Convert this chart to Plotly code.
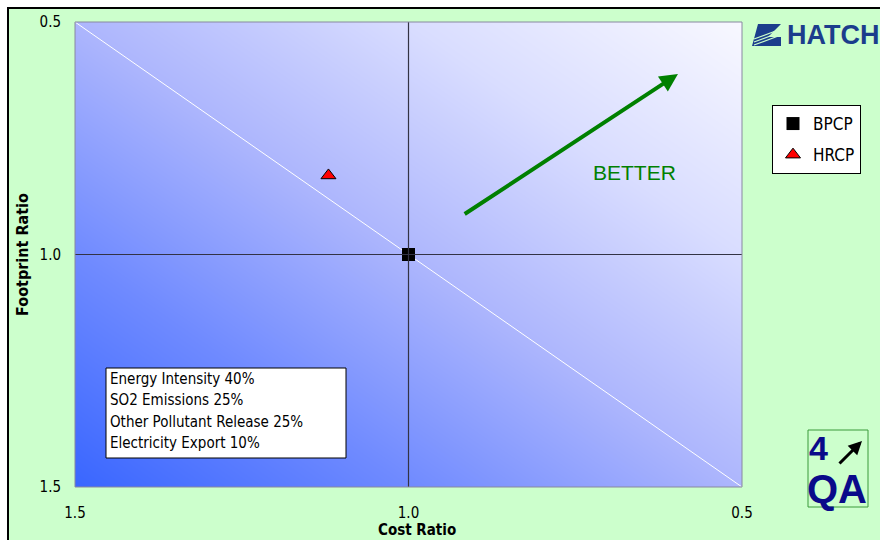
import plotly.graph_objects as go

# ---- data ----
series_names = ["BPCP", "HRCP"]
cost_ratio = [1.0, 1.12]
footprint_ratio = [1.0, 0.83]
tick_vals = [0.5, 1.0, 1.5]
tick_text = ["0.5", "1.0", "1.5"]
weights_text = ["Energy Intensity 40%", "SO2 Emissions 25%",
                "Other Pollutant Release 25%", "Electricity Export 10%"]

W, H = 880, 540
L, R, T, B = 75, 742, 22, 487


def px(x):
    return (x - L) / (R - L)


def py(y):
    return (B - y) / (B - T)


FONT = "DejaVu Sans Condensed, Noto Sans, DejaVu Sans"

fig = go.Figure()

# background gradient of plot area
fig.add_trace(go.Heatmap(
    x=[1.5, 0.5], y=[0.5, 1.5], z=[[1, 2], [0, 1]], zsmooth="best",
    colorscale=[[0, "#3966ff"], [0.25, "#6f8aff"], [0.5, "#adb6fd"],
                [0.75, "#d9ddff"], [1, "#f8f8ff"]],
    showscale=False, hoverinfo="skip", showlegend=False))

# diagonal line
fig.add_trace(go.Scatter(x=[1.5, 0.5], y=[0.5, 1.5], mode="lines",
                         line=dict(color="white", width=1),
                         hoverinfo="skip", showlegend=False))

fig.add_trace(go.Scatter(
    x=[cost_ratio[0]], y=[footprint_ratio[0]], mode="markers", name=series_names[0],
    marker=dict(symbol="square", size=13, color="black"), legendgroup="a"))
fig.add_trace(go.Scatter(
    x=[cost_ratio[1]], y=[footprint_ratio[1]], mode="markers", name=series_names[1],
    marker=dict(symbol="triangle-up", size=13, color="#ff0000",
                line=dict(color="black", width=1)), legendgroup="b"))

shapes = [
    # green page with black border
    dict(type="rect", xref="paper", yref="paper", x0=px(8), x1=px(890), y0=py(8), y1=py(560),
         fillcolor="#ccffcc", line=dict(color="black", width=2), layer="below"),
    # crosshairs
    dict(type="line", xref="x", yref="paper", x0=1.0, x1=1.0, y0=0, y1=1,
         line=dict(color="#333344", width=1.2)),
    dict(type="line", xref="paper", yref="y", x0=0, x1=1, y0=1.0, y1=1.0,
         line=dict(color="#333344", width=1.2)),
    # plot border
    dict(type="rect", xref="paper", yref="paper", x0=0, x1=1, y0=0, y1=1,
         line=dict(color="#8888a0", width=1)),
    # weights box
    dict(type="rect", xref="paper", yref="paper", x0=px(106), x1=px(346), y0=py(368), y1=py(458),
         fillcolor="white", line=dict(color="black", width=1)),
    # 4QA box
    dict(type="rect", xref="paper", yref="paper", x0=px(808), x1=px(868), y0=py(430), y1=py(507),
         line=dict(color="#3a9a3a", width=1)),
    # HATCH icon
    dict(type="path", xref="paper", yref="paper",
         path=f"M {px(758)},{py(24)} L {px(781)},{py(24)} L {px(768)},{py(37)} L {px(781)},{py(37)} "
              f"L {px(781)},{py(46)} L {px(752)},{py(46)} Z",
         fillcolor="#1b3d8c", line=dict(width=0)),
]
for a in (30, 33, 36):
    shapes.append(dict(type="line", xref="paper", yref="paper",
                       x0=px(754), y0=py(a + 9), x1=px(781), y1=py(a - 1),
                       line=dict(color="#ccffcc", width=1.2)))

annotations = []
for i, t in enumerate(weights_text):
    annotations.append(dict(xref="paper", yref="paper", x=px(108), y=py(379 + 21.3 * i),
                            xanchor="left", yanchor="middle", text=t, showarrow=False,
                            font=dict(family=FONT, size=15, color="black")))

annotations += [
    # x axis title
    dict(xref="paper", yref="paper", x=px(417), y=py(530), xanchor="center", yanchor="middle",
         text="<b>Cost Ratio</b>", showarrow=False,
         font=dict(family=FONT, size=15, color="black")),
    # BETTER arrow
    dict(xref="x", yref="y", axref="x", ayref="y", x=0.596, y=0.612, ax=0.918, ay=0.915,
         text="", showarrow=True, arrowhead=2, arrowsize=0.9, arrowwidth=4, arrowcolor="#008000"),
    dict(xref="paper", yref="paper", x=px(634), y=py(172), xanchor="center", yanchor="middle",
         text="BETTER", showarrow=False,
         font=dict(family="Liberation Sans, Arial", size=21, color="#008000")),
    # HATCH logo text
    dict(xref="paper", yref="paper", x=px(785), y=py(35), xanchor="left", yanchor="middle",
         text="<b>HATCH</b>", showarrow=False,
         font=dict(family="Liberation Sans, Arial", size=27, color="#1b3d8c")),
    # 4QA logo
    dict(xref="paper", yref="paper", x=px(807), y=py(448), xanchor="left", yanchor="middle",
         text="<b>4</b>", showarrow=False,
         font=dict(family="Liberation Sans Narrow, Liberation Sans", size=34, color="#0a0a8a")),
    dict(xref="paper", yref="paper", x=px(837), y=py(489), xanchor="center", yanchor="middle",
         text="<b>QA</b>", showarrow=False,
         font=dict(family="Liberation Sans Narrow, Liberation Sans", size=40, color="#0a0a8a")),
    dict(xref="paper", yref="paper", axref="pixel", ayref="pixel", x=px(862), y=py(441),
         ax=-24, ay=24, text="", showarrow=True, arrowhead=2, arrowsize=0.9, arrowwidth=3,
         arrowcolor="black"),
]

fig.update_layout(
    width=W, height=H,
    margin=dict(l=L, r=W - R, t=T, b=H - B, pad=0, autoexpand=False),
    paper_bgcolor="white", plot_bgcolor="rgba(0,0,0,0)",
    font=dict(family=FONT, size=15, color="black"),
    shapes=shapes, annotations=annotations,
    showlegend=True,
    legend=dict(x=px(772), y=py(105), xanchor="left", yanchor="top",
                bgcolor="white", bordercolor="black", borderwidth=1,
                font=dict(family=FONT, size=17, color="black"),
                tracegroupgap=6, traceorder="grouped", itemwidth=30),
    xaxis=dict(range=[1.5, 0.5], tickvals=tick_vals, ticktext=tick_text,
               showgrid=False, zeroline=False, showline=False, automargin=False,
               ticks="outside", ticklen=12, tickcolor="rgba(0,0,0,0)",
               tickfont=dict(family=FONT, size=15)),
    yaxis=dict(range=[1.5, 0.5], tickvals=tick_vals, ticktext=tick_text,
               showgrid=False, zeroline=False, showline=False, automargin=False,
               ticks="outside", ticklen=10, tickcolor="rgba(0,0,0,0)",
               tickfont=dict(family=FONT, size=15),
               title=dict(text="<b>Footprint Ratio</b>", standoff=6,
                          font=dict(family=FONT, size=16))),
)

fig.write_html("out.html")
